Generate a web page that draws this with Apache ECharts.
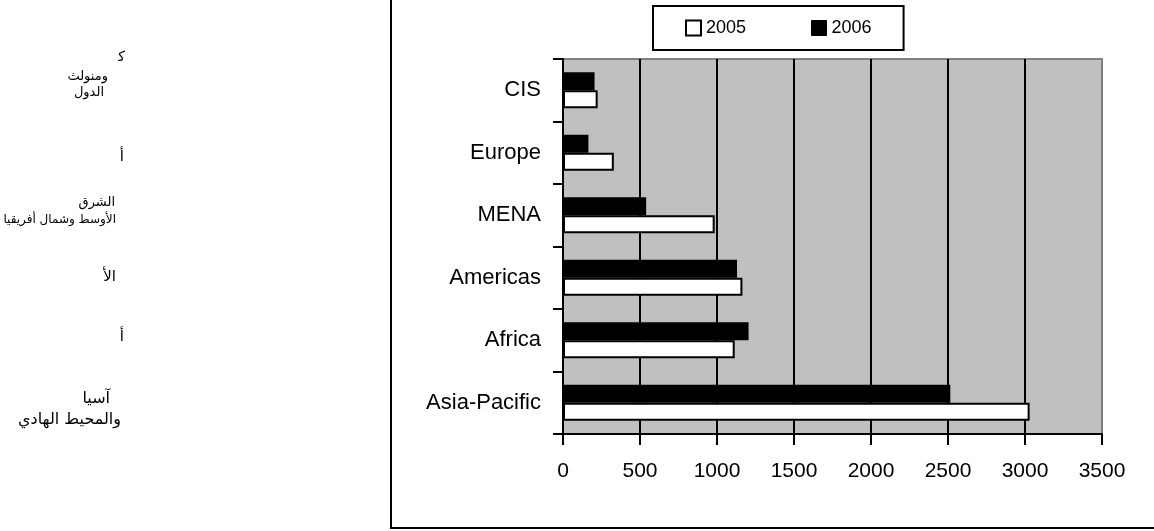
<!DOCTYPE html>
<html>
<head>
<meta charset="utf-8">
<script src="https://cdn.jsdelivr.net/npm/echarts@6/dist/echarts.min.js"></script>
<style>
  html, body { margin: 0; padding: 0; background: #fff; }
  #chart { width: 1154px; height: 531px; }
</style>
</head>
<body>
<div id="chart"></div>
<script>
// Regions, listed from the bottom of the vertical axis upwards
const categories = ['Asia-Pacific', 'Africa', 'Americas', 'MENA', 'Europe', 'CIS'];
const values2005 = [3030, 1115, 1165, 985, 330, 225];
const values2006 = [2515, 1205, 1130, 540, 165, 205];
const seriesNames = ['2005', '2006'];
const xTicks = { min: 0, max: 3500, step: 500 };

// Arabic side notes (region names), one entry per drawn line
const sideNotes = [
  { text: 'ﻛ', x: 125, y: 57, size: 14 },
  { text: 'ومنولث', x: 108, y: 77, size: 13 },
  { text: 'الدول', x: 104, y: 93, size: 13 },
  { text: 'أ', x: 124, y: 157, size: 15 },
  { text: 'الشرق', x: 115, y: 203, size: 13 },
  { text: 'الأوسط وشمال أفريقيا', x: 116, y: 220, size: 12 },
  { text: 'الأ', x: 116, y: 277, size: 15 },
  { text: 'أ', x: 124, y: 337, size: 15 },
  { text: 'آسيا', x: 110, y: 399, size: 16 },
  { text: 'والمحيط الهادي', x: 121, y: 420, size: 16 }
];

const sans = '"Liberation Sans", Arial, sans-serif';

const chart = echarts.init(document.getElementById('chart'), null, { renderer: 'canvas' });

chart.setOption({
  animation: false,
  backgroundColor: '#fff',
  legend: {
    left: 653,
    top: 6,
    orient: 'horizontal',
    backgroundColor: '#fff',
    borderColor: '#000',
    borderWidth: 2,
    padding: [13, 32, 13, 32],
    itemGap: 65,
    itemWidth: 15,
    itemHeight: 15,
    itemTextGap: 4,
    icon: 'rect',
    textStyle: { fontFamily: sans, fontSize: 18, color: '#000' },
    data: [
      { name: seriesNames[0], itemStyle: { color: '#fff', borderColor: '#000', borderWidth: 2 } },
      { name: seriesNames[1], itemStyle: { color: '#000', borderColor: '#000', borderWidth: 1 } }
    ]
  },
  grid: {
    left: 563,
    top: 59,
    right: 52,
    bottom: 97,
    show: true,
    backgroundColor: '#C0C0C0',
    borderColor: '#808080',
    borderWidth: 2
  },
  xAxis: {
    type: 'value',
    min: xTicks.min,
    max: xTicks.max,
    interval: xTicks.step,
    axisLine: { show: true, lineStyle: { color: '#000', width: 2 } },
    axisTick: { show: true, inside: false, length: 11, lineStyle: { color: '#000', width: 2 } },
    axisLabel: {
      margin: 27,
      fontFamily: sans,
      fontSize: 21,
      color: '#000',
      formatter: v => String(v)
    },
    splitLine: { show: true, showMinLine: false, showMaxLine: false, lineStyle: { color: '#000', width: 2 } }
  },
  yAxis: {
    type: 'category',
    data: categories,
    boundaryGap: true,
    axisLine: { show: true, lineStyle: { color: '#000', width: 2 } },
    axisTick: { show: true, inside: false, length: 10, lineStyle: { color: '#000', width: 2 } },
    axisLabel: { margin: 22, fontFamily: sans, fontSize: 22, color: '#000' },
    splitLine: { show: false }
  },
  series: [
    {
      name: seriesNames[1],
      type: 'bar',
      data: values2006,
      barWidth: 18,
      barGap: '0%',
      itemStyle: { color: '#000', borderColor: '#000', borderWidth: 2 }
    },
    {
      name: seriesNames[0],
      type: 'bar',
      data: values2005,
      barWidth: 18,
      barGap: '0%',
      itemStyle: { color: '#fff', borderColor: '#000', borderWidth: 2 }
    }
  ],
  graphic: [
    {
      type: 'rect',
      silent: true,
      z: 100,
      shape: { x: 391, y: -10, width: 800, height: 538 },
      style: { fill: null, stroke: '#000', lineWidth: 2 }
    }
  ].concat(sideNotes.map(n => ({
    type: 'text',
    silent: true,
    x: n.x,
    y: n.y,
    style: {
      text: n.text,
      fill: '#000',
      font: n.size + 'px "DejaVu Sans", sans-serif',
      align: 'right',
      verticalAlign: 'middle'
    }
  })))
});
</script>
</body>
</html>
